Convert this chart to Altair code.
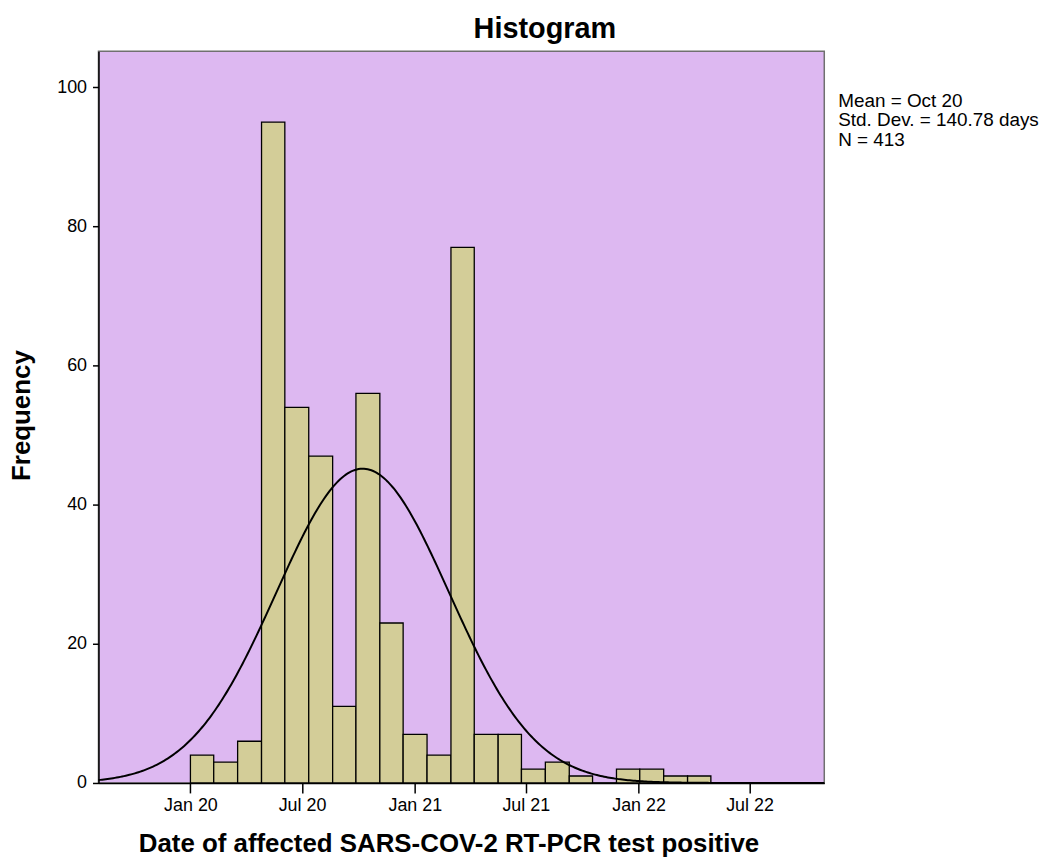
import altair as alt
import numpy as np
import pandas as pd

# ---- data ----
BIN_EDGES = ["2020-01-01", "2020-02-08", "2020-03-18", "2020-04-26", "2020-06-03",
             "2020-07-12", "2020-08-20", "2020-09-27", "2020-11-05", "2020-12-13",
             "2021-01-21", "2021-03-01", "2021-04-08", "2021-05-17", "2021-06-24",
             "2021-08-02", "2021-09-10", "2021-10-18", "2021-11-26", "2022-01-03",
             "2022-02-11", "2022-03-22", "2022-04-29"]
COUNTS = [4, 3, 6, 95, 54, 47, 11, 56, 23, 7, 4, 77, 7, 7, 2, 3, 1, 0, 2, 2, 1, 1]
TICK_DATES = ["2020-01-01", "2020-07-01", "2021-01-01", "2021-07-01", "2022-01-01", "2022-07-01"]
Y_TICKS = [0, 20, 40, 60, 80, 100]
X_DOMAIN = ["2019-08-04", "2022-10-31"]
Y_DOMAIN = [0, 105.2]

# fitted normal curve parameters (as stated on the chart)
MEAN_DATE = "2020-10-08"
STD_DAYS = 140.78
N_OBS = 413
BIN_WIDTH_DAYS = 38.6

STATS_LINES = ["Mean = Oct 20", "Std. Dev. = 140.78 days", "N = 413"]
TITLE = "Histogram"
X_TITLE = "Date of affected SARS-COV-2 RT-PCR test positive"
Y_TITLE = "Frequency"

FONT = "Liberation Sans"
DAY_MS = 86400000

bars = pd.DataFrame({
    "start": BIN_EDGES[:-1],
    "end": BIN_EDGES[1:],
    "count": COUNTS,
})

# normal curve scaled to the histogram
mean_ms = pd.Timestamp(MEAN_DATE).value // 10**6
lo_ms = pd.Timestamp(X_DOMAIN[0]).value // 10**6
hi_ms = pd.Timestamp(X_DOMAIN[1]).value // 10**6
xs = np.linspace(lo_ms, hi_ms, 400)
z = (xs - mean_ms) / (STD_DAYS * DAY_MS)
dens = N_OBS * BIN_WIDTH_DAYS / (STD_DAYS * np.sqrt(2 * np.pi)) * np.exp(-0.5 * z ** 2)
curve = pd.DataFrame({"t": xs.astype("int64"), "freq": dens})


def utc_dt(s):
    ts = pd.Timestamp(s)
    return alt.DateTime(year=ts.year, month=ts.month, date=ts.day, utc=True)


x_scale = alt.Scale(type="utc", domain=[utc_dt(d) for d in X_DOMAIN], nice=False)
y_scale = alt.Scale(domain=Y_DOMAIN, nice=False, zero=True)

x_axis = alt.Axis(
    title=X_TITLE, values=[utc_dt(d) for d in TICK_DATES],
    labelExpr="utcFormat(datum.value, '%b %y')",
    tickSize=10, labelPadding=4, labelFontSize=18, labelFont=FONT,
    titleFontSize=26, titleFontWeight="bold", titleFont=FONT,
    titleX=352, titleY=69, titleAlign="center", titleBaseline="alphabetic",
    grid=False,
)
y_axis = alt.Axis(
    title=Y_TITLE, values=Y_TICKS, tickSize=6, labelPadding=6,
    labelFontSize=18, labelFont=FONT,
    titleFontSize=26, titleFontWeight="bold", titleFont=FONT,
    titleX=-69, titleY=366, titleAlign="center", titleBaseline="alphabetic",
    titleAngle=270, grid=False,
)

bar_layer = alt.Chart(bars).mark_rect(
    fill="#D3CD98", stroke="black", strokeWidth=1.3
).encode(
    x=alt.X("start:T", scale=x_scale, axis=x_axis),
    x2="end:T",
    y=alt.Y("count:Q", scale=y_scale, axis=y_axis),
    y2=alt.datum(0),
)

line_layer = alt.Chart(curve).mark_line(color="black", strokeWidth=2).encode(
    x=alt.X("t:T", scale=x_scale, axis=x_axis),
    y=alt.Y("freq:Q", scale=y_scale, axis=y_axis),
)

title_layer = alt.Chart(pd.DataFrame({"txt": [TITLE]})).mark_text(
    font=FONT, fontSize=29, fontWeight="bold", align="center",
    baseline="alphabetic", color="black"
).encode(x=alt.value(449), y=alt.value(-13), text="txt:N")

stats_layer = alt.Chart(pd.DataFrame({"txt": ["\n".join(STATS_LINES)]})).mark_text(
    font=FONT, fontSize=19, align="left", baseline="alphabetic",
    lineBreak="\n", lineHeight=19.6, color="black"
).encode(x=alt.value(744), y=alt.value(56), text="txt:N")

chart = alt.layer(bar_layer, line_layer, title_layer, stats_layer).properties(
    width=730, height=736,
    autosize=alt.AutoSizeParams(type="none"),
    padding={"left": 91, "top": 41, "right": 222, "bottom": 72},
).configure_view(
    fill="#DDB8F1", stroke="#707070", strokeWidth=1.5
).configure_axis(
    domainColor="black", domainWidth=1.5, tickColor="black", tickWidth=1.5,
    labelColor="black", titleColor="black",
)

chart.save("out.html", embed_options={"renderer": "svg", "actions": False})
